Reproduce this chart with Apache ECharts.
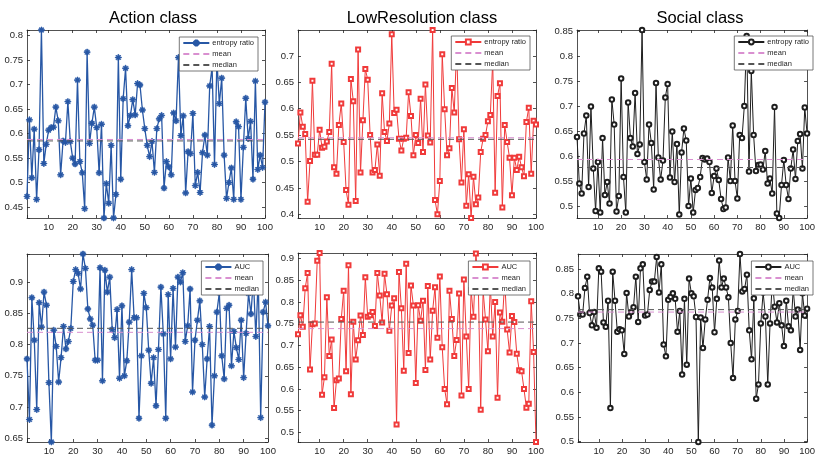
<!DOCTYPE html>
<html>
<head>
    <meta charset="UTF-8">
    <title>entropy ratio and AUC by class</title>
    <style>
        html, body {
            margin: 0;
            padding: 0;
            background: #fff;
        }

        #chart {
            width: 818px;
            height: 456px;
        }
    </style>
    <script type="text/javascript" src="https://cdn.jsdelivr.net/npm/echarts@6/dist/echarts.min.js"></script>
</head>
<body>
<div id="chart"></div>
<script>
    // values, trial 1..100
    const actionEntropy = [
        0.472, 0.628, 0.51, 0.609, 0.466, 0.567, 0.811, 0.539, 0.578, 0.607,
        0.612, 0.613, 0.654, 0.626, 0.516, 0.585, 0.582, 0.665, 0.584, 0.55,
        0.538, 0.709, 0.543, 0.52, 0.447, 0.766, 0.58, 0.621, 0.654, 0.612,
        0.52, 0.619, 0.428, 0.498, 0.458, 0.576, 0.428, 0.476, 0.755, 0.507,
        0.671, 0.733, 0.616, 0.637, 0.669, 0.638, 0.702, 0.699, 0.648, 0.61,
        0.576, 0.553, 0.584, 0.521, 0.61, 0.63, 0.637, 0.489, 0.543, 0.532,
        0.516, 0.642, 0.626, 0.755, 0.596, 0.636, 0.479, 0.563, 0.559, 0.641,
        0.494, 0.521, 0.48, 0.561, 0.597, 0.556, 0.697, 0.735, 0.537, 0.75,
        0.661, 0.713, 0.556, 0.468, 0.5, 0.53, 0.466, 0.624, 0.614, 0.466,
        0.572, 0.672, 0.59, 0.625, 0.507, 0.707, 0.527, 0.556, 0.531, 0.664
    ];
    const lowresEntropy = [
        0.534, 0.593, 0.566, 0.552, 0.424, 0.501, 0.653, 0.513, 0.513, 0.56,
        0.526, 0.528, 0.538, 0.556, 0.685, 0.489, 0.477, 0.569, 0.61, 0.537,
        0.446, 0.418, 0.656, 0.614, 0.425, 0.712, 0.479, 0.578, 0.675, 0.655,
        0.55, 0.479, 0.484, 0.532, 0.473, 0.629, 0.556, 0.539, 0.572, 0.741,
        0.592, 0.598, 0.543, 0.521, 0.543, 0.545, 0.631, 0.586, 0.512, 0.55,
        0.535, 0.619, 0.518, 0.646, 0.549, 0.536, 0.749, 0.427, 0.4, 0.463,
        0.703, 0.599, 0.512, 0.525, 0.639, 0.593, 0.719, 0.542, 0.46, 0.561,
        0.416, 0.476, 0.393, 0.471, 0.419, 0.432, 0.518, 0.543, 0.55, 0.576,
        0.588, 0.69, 0.441, 0.624, 0.648, 0.413, 0.569, 0.537, 0.507, 0.436,
        0.507, 0.484, 0.509, 0.489, 0.472, 0.575, 0.602, 0.477, 0.577, 0.57
    ];
    const socialEntropy = [
        0.638, 0.545, 0.525, 0.645, 0.681, 0.538, 0.699, 0.575, 0.49, 0.588,
        0.487, 0.636, 0.522, 0.548, 0.505, 0.713, 0.663, 0.489, 0.52, 0.755,
        0.558, 0.487, 0.707, 0.636, 0.619, 0.726, 0.604, 0.623, 0.852, 0.588,
        0.553, 0.663, 0.626, 0.533, 0.746, 0.597, 0.553, 0.591, 0.717, 0.744,
        0.557, 0.649, 0.548, 0.624, 0.483, 0.607, 0.655, 0.631, 0.5, 0.555,
        0.487, 0.532, 0.536, 0.558, 0.596, 0.593, 0.595, 0.588, 0.526, 0.56,
        0.575, 0.552, 0.514, 0.494, 0.497, 0.597, 0.55, 0.661, 0.55, 0.515,
        0.642, 0.636, 0.7, 0.84, 0.569, 0.77, 0.642, 0.57, 0.582, 0.583,
        0.573, 0.61, 0.545, 0.555, 0.525, 0.698, 0.485, 0.476, 0.542, 0.592,
        0.542, 0.514, 0.575, 0.613, 0.554, 0.63, 0.644, 0.575, 0.697, 0.645
    ];
    const actionAuc = [
        0.777, 0.68, 0.875, 0.807, 0.696, 0.867, 0.828, 0.884, 0.863, 0.739,
        0.644, 0.823, 0.797, 0.74, 0.779, 0.829, 0.793, 0.805, 0.826, 0.901,
        0.92, 0.914, 0.889, 0.945, 0.922, 0.857, 0.841, 0.831, 0.775, 0.775,
        0.923, 0.742, 0.919, 0.884, 0.908, 0.824, 0.811, 0.856, 0.746, 0.862,
        0.75, 0.774, 0.836, 0.92, 0.843, 0.843, 0.682, 0.782, 0.882, 0.859,
        0.791, 0.738, 0.779, 0.702, 0.792, 0.892, 0.817, 0.682, 0.88, 0.777,
        0.89, 0.796, 0.908, 0.9, 0.915, 0.805, 0.83, 0.889, 0.724, 0.807,
        0.839, 0.87, 0.8, 0.716, 0.777, 0.829, 0.671, 0.75, 0.852, 0.883,
        0.782, 0.745, 0.858, 0.863, 0.766, 0.821, 0.795, 0.776, 0.839, 0.747,
        0.818, 0.882, 0.849, 0.905, 0.813, 0.906, 0.683, 0.852, 0.868, 0.83
    ];
    const lowresAuc = [
        0.726, 0.77, 0.743, 0.832, 0.867, 0.645, 0.749, 0.751, 0.895, 0.913,
        0.587, 0.627, 0.811, 0.676, 0.714, 0.556, 0.62, 0.624, 0.761, 0.826,
        0.641, 0.885, 0.588, 0.755, 0.668, 0.712, 0.769, 0.724, 0.857, 0.766,
        0.77, 0.777, 0.745, 0.867, 0.815, 0.753, 0.865, 0.818, 0.734, 0.792,
        0.809, 0.518, 0.869, 0.786, 0.642, 0.888, 0.683, 0.838, 0.792, 0.614,
        0.793, 0.757, 0.803, 0.644, 0.837, 0.668, 0.78, 0.834, 0.718, 0.859,
        0.696, 0.6, 0.565, 0.826, 0.761, 0.676, 0.713, 0.82, 0.585, 0.852,
        0.721, 0.6, 0.828, 0.766, 0.912, 0.84, 0.552, 0.826, 0.76, 0.687,
        0.84, 0.721, 0.8, 0.58, 0.776, 0.755, 0.85, 0.737, 0.684, 0.768,
        0.754, 0.681, 0.643, 0.641, 0.6, 0.557, 0.566, 0.802, 0.685, 0.478
    ];
    const socialAuc = [
        0.795, 0.758, 0.758, 0.812, 0.835, 0.761, 0.736, 0.763, 0.731, 0.852,
        0.845, 0.742, 0.733, 0.786, 0.568, 0.845, 0.786, 0.723, 0.728, 0.726,
        0.678, 0.802, 0.754, 0.763, 0.773, 0.835, 0.743, 0.852, 0.86, 0.756,
        0.758, 0.808, 0.825, 0.825, 0.875, 0.803, 0.86, 0.697, 0.673, 0.788,
        0.794, 0.801, 0.79, 0.723, 0.765, 0.636, 0.79, 0.656, 0.831, 0.801,
        0.795, 0.753, 0.499, 0.752, 0.69, 0.748, 0.788, 0.832, 0.813, 0.722,
        0.79, 0.868, 0.813, 0.831, 0.813, 0.793, 0.7, 0.629, 0.748, 0.765,
        0.881, 0.805, 0.81, 0.839, 0.726, 0.667, 0.791, 0.587, 0.616, 0.74,
        0.803, 0.754, 0.616, 0.74, 0.827, 0.774, 0.742, 0.781, 0.736, 0.694,
        0.786, 0.734, 0.726, 0.81, 0.754, 0.768, 0.686, 0.801, 0.756, 0.77
    ];

    // order: action, lowres, social entropy, then action, lowres, social AUC
    const meanVals = [0.588, 0.545, 0.593, 0.8196, 0.739, 0.763];
    const medianVals = [0.585, 0.542, 0.577, 0.826, 0.754, 0.768];
    const classTitles = ['Action class', 'LowResolution class', 'Social class'];
    const seriesNames = ['entropy ratio', 'entropy ratio', 'entropy ratio', 'AUC', 'AUC', 'AUC'];

    const FONT = '"Liberation Sans", Arial, sans-serif';
    const AXIS_COLOR = '#262626';
    const MEAN_COLOR = '#d98fd0';
    const MEDIAN_COLOR = '#555555';

    // matlab '*' marker
    const asterisk = 'path://M-0.7,-5L0.7,-5L0.7,5L-0.7,5Z M-5,-0.7L5,-0.7L5,0.7L-5,0.7Z ' +
        'M-3,-4L4,3L3,4L-4,-3Z M4,-3L-3,4L-4,3L3,-4Z';

    const styles = [
        {color: '#2757a5', symbol: asterisk, size: 6, width: 1.3},
        {color: '#f03a3a', symbol: 'emptyRect', size: 4, width: 1},
        {color: '#1e1e1e', symbol: 'emptyCircle', size: 4.5, width: 1}
    ];

    const panels = [
        {data: actionEntropy, grid: [27, 30, 238, 188], legend: [560, 37]},
        {data: lowresEntropy, grid: [298, 30, 238, 188], legend: [288, 36]},
        {data: socialEntropy, grid: [577, 30, 238, 188], legend: [5, 36]},
        {data: actionAuc, grid: [27, 254, 241, 191], legend: [555, 261]},
        {data: lowresAuc, grid: [298, 253, 238, 190], legend: [288, 261]},
        {data: socialAuc, grid: [578, 254, 238, 191], legend: [5, 261]}
    ];

    function yLabel(v) {
        const k = v / 0.05;
        return Math.abs(k - Math.round(k)) < 1e-6 ? String(+v.toFixed(2)) : '';
    }

    function xLabel(v) {
        return v % 10 === 0 ? String(v) : '';
    }

    const grid = [], xAxis = [], yAxis = [], series = [], legend = [], title = [];
    // no marker on the dashed lines in the legend
    const noMarker = {color: 'rgba(0,0,0,0)', borderColor: 'rgba(0,0,0,0)', borderWidth: 0};

    panels.forEach((p, i) => {
        const st = styles[i % 3];
        const lo = Math.min(...p.data, meanVals[i], medianVals[i]);
        const hi = Math.max(...p.data, meanVals[i], medianVals[i]);
        grid.push({left: p.grid[0], top: p.grid[1], width: p.grid[2], height: p.grid[3], containLabel: false});

        const common = {
            gridIndex: i,
            type: 'value',
            axisLine: {show: true, lineStyle: {color: AXIS_COLOR, width: 0.8}},
            axisTick: {show: true, inside: true, length: 3, lineStyle: {color: AXIS_COLOR, width: 0.8}},
            splitLine: {show: false}
        };
        const xCommon = Object.assign({}, common, {min: 1, max: 100, minInterval: 10, maxInterval: 10});
        const yCommon = Object.assign({}, common, {min: lo, max: hi, minInterval: 0.05, maxInterval: 0.05});
        const labelStyle = {fontSize: 9.5, color: AXIS_COLOR, fontFamily: FONT};

        xAxis.push(Object.assign({}, xCommon, {
            position: 'bottom',
            axisLabel: Object.assign({formatter: xLabel, margin: 4}, labelStyle)
        }));
        xAxis.push(Object.assign({}, xCommon, {position: 'top', axisLabel: {show: false}}));
        yAxis.push(Object.assign({}, yCommon, {
            position: 'left',
            axisLabel: Object.assign({formatter: yLabel, margin: 4}, labelStyle)
        }));
        yAxis.push(Object.assign({}, yCommon, {position: 'right', axisLabel: {show: false}}));

        const tag = '|' + i;
        series.push({
            type: 'line',
            name: seriesNames[i] + tag,
            xAxisIndex: 2 * i,
            yAxisIndex: 2 * i,
            data: p.data.map((v, k) => [k + 1, v]),
            symbol: st.symbol,
            symbolSize: st.size,
            showAllSymbol: true,
            lineStyle: {color: st.color, width: st.width},
            itemStyle: {color: st.color, borderColor: st.color, borderWidth: 0.8},
            z: 2
        });
        series.push({
            type: 'line',
            name: 'mean' + tag,
            xAxisIndex: 2 * i,
            yAxisIndex: 2 * i,
            data: [[1, meanVals[i]], [100, meanVals[i]]],
            symbol: 'none',
            lineStyle: {color: MEAN_COLOR, width: 1, type: [6, 4]},
            itemStyle: {color: MEAN_COLOR},
            z: 3
        });
        series.push({
            type: 'line',
            name: 'median' + tag,
            xAxisIndex: 2 * i,
            yAxisIndex: 2 * i,
            data: [[1, medianVals[i]], [100, medianVals[i]]],
            symbol: 'none',
            lineStyle: {color: MEDIAN_COLOR, width: 1, type: [6, 4]},
            itemStyle: {color: MEDIAN_COLOR},
            z: 3
        });

        legend.push({
            data: [
                {name: seriesNames[i] + tag},
                {name: 'mean' + tag, itemStyle: noMarker},
                {name: 'median' + tag, itemStyle: noMarker}
            ],
            orient: 'vertical',
            right: p.legend[0],
            top: p.legend[1],
            itemWidth: 26,
            itemHeight: 6,
            itemGap: 3,
            padding: [2, 4, 2, 3],
            backgroundColor: '#fff',
            borderColor: '#555',
            borderWidth: 0.8,
            selectedMode: false,
            formatter: name => name.split('|')[0],
            textStyle: {fontSize: 7.5, color: AXIS_COLOR, fontFamily: FONT, padding: [0, 0, 0, -2]}
        });
    });

    [148, 417, 695].forEach((cx, i) => {
        title.push({
            text: classTitles[i],
            left: cx,
            top: 5,
            textAlign: 'center',
            textStyle: {fontSize: 16.5, fontWeight: 'normal', color: '#000', fontFamily: FONT}
        });
    });

    const myChart = echarts.init(document.getElementById('chart'), null, {renderer: 'canvas'});
    myChart.setOption({
        animation: false,
        backgroundColor: '#fff',
        title: title,
        grid: grid,
        xAxis: xAxis,
        yAxis: yAxis,
        legend: legend,
        series: series
    });
</script>
</body>
</html>
